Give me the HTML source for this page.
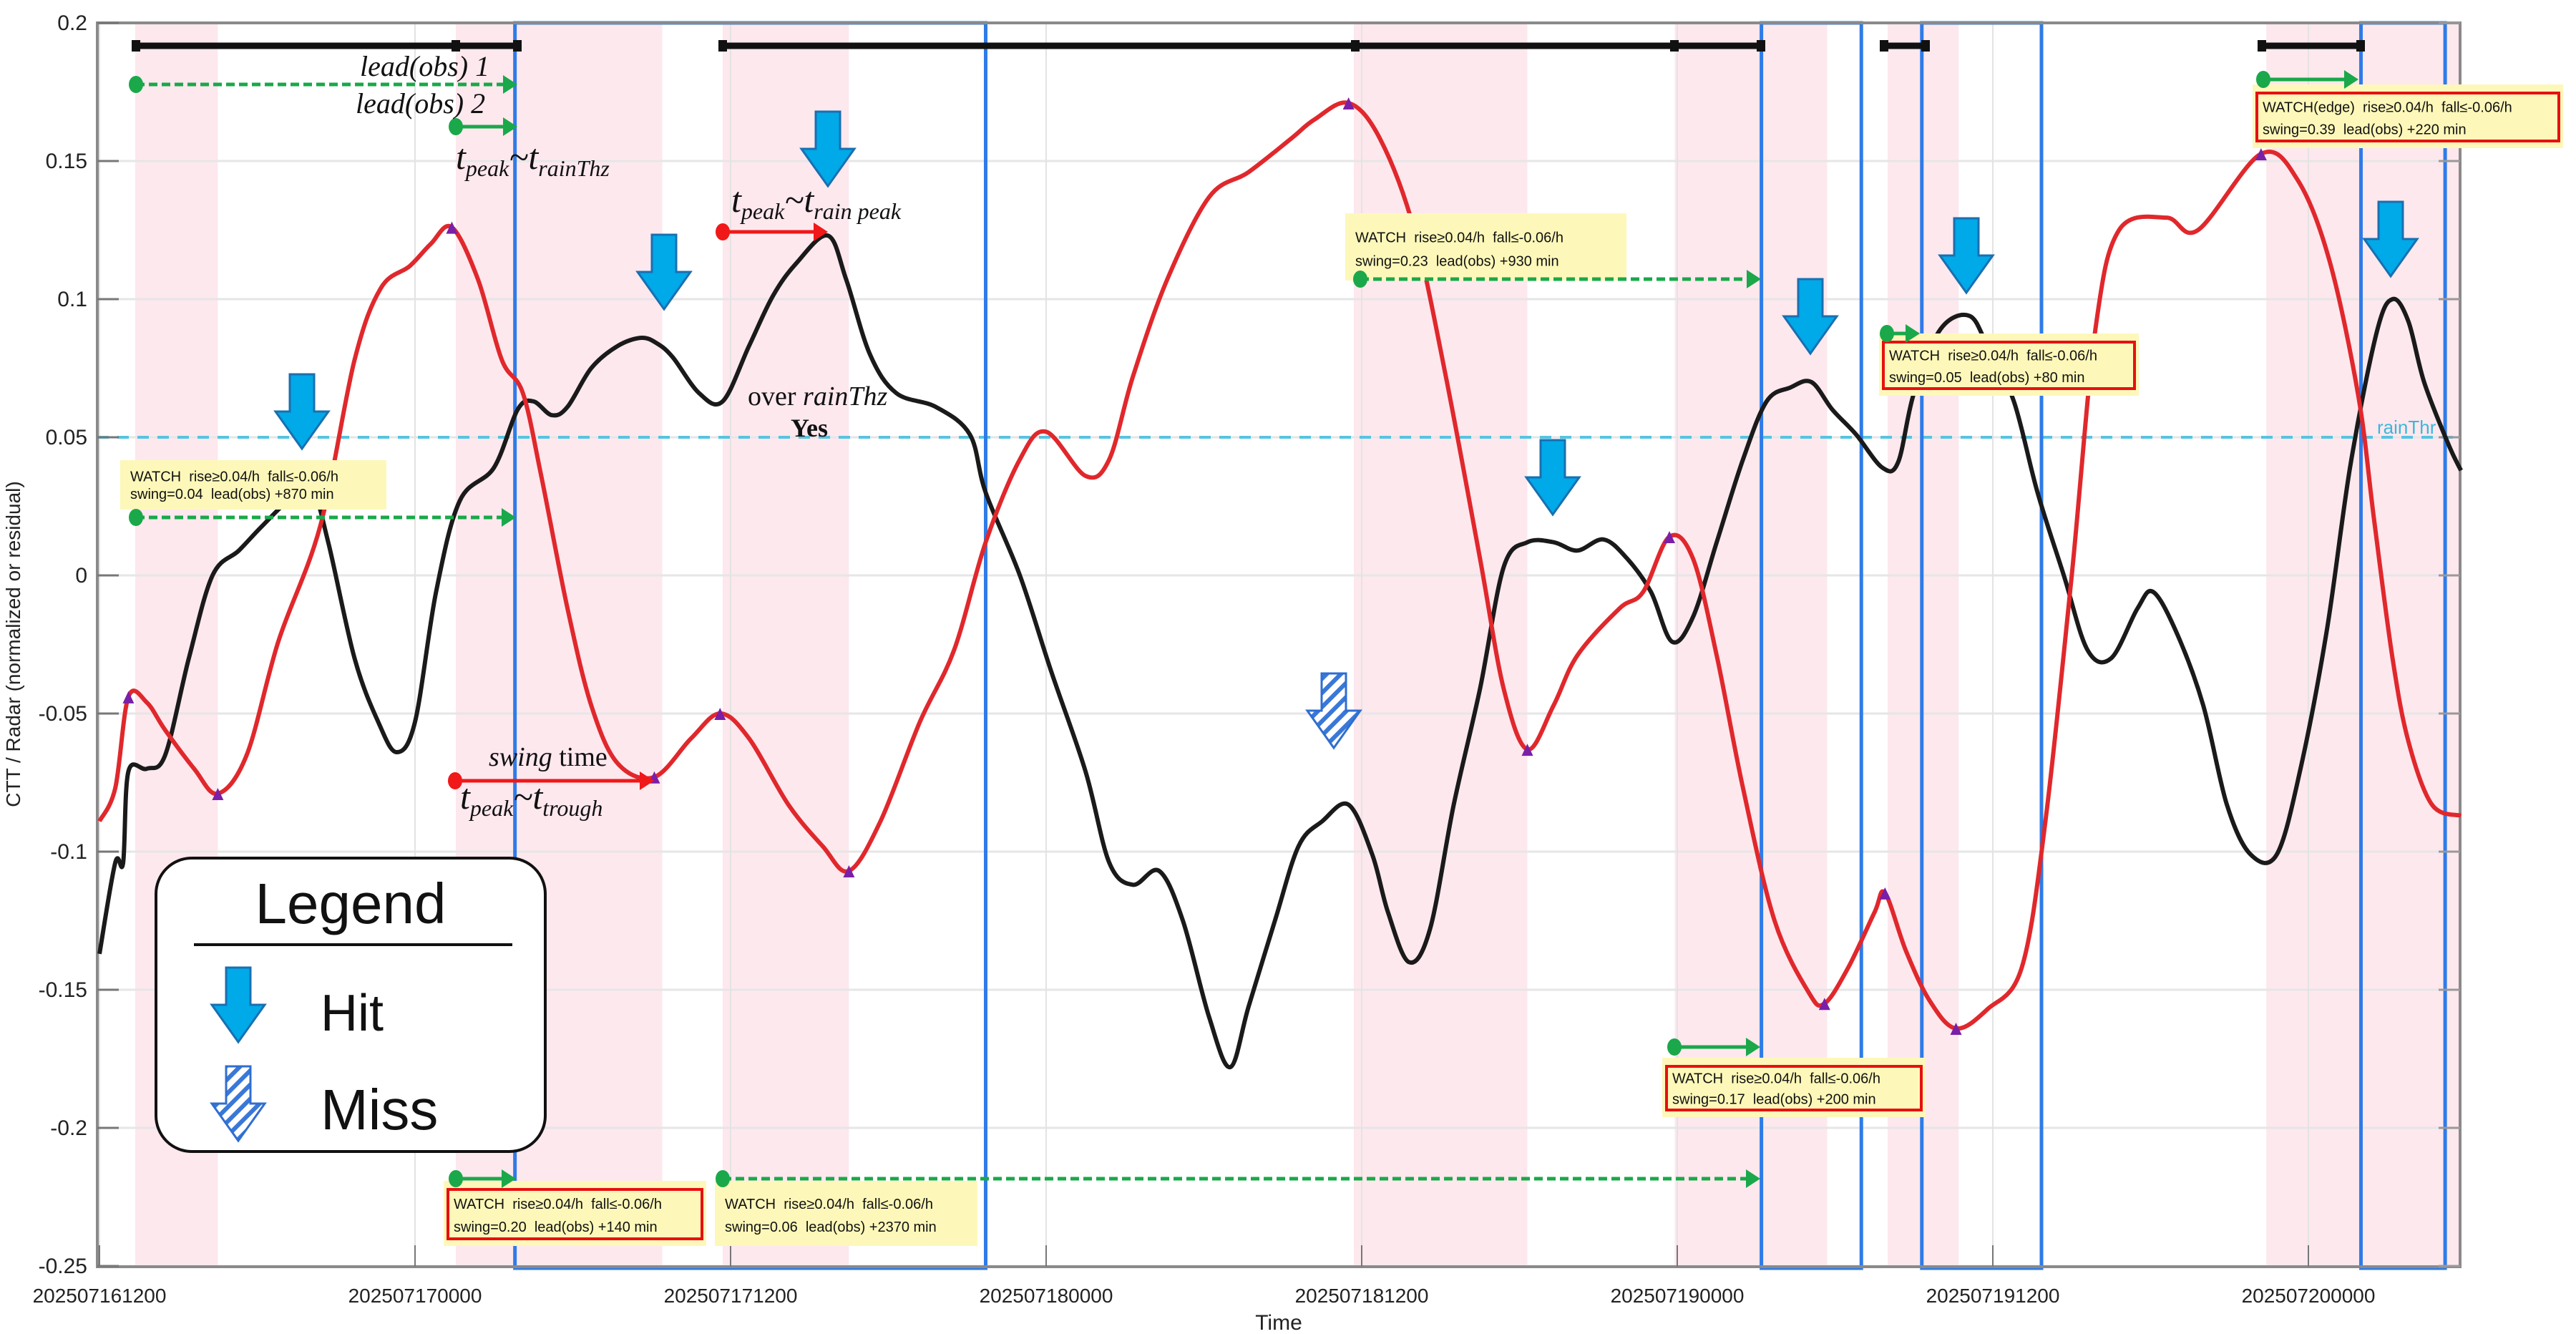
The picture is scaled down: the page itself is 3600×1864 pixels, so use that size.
<!DOCTYPE html>
<html><head><meta charset="utf-8"><style>
html,body{margin:0;padding:0;background:#fff;}
svg{display:block;}
text{font-family:"Liberation Sans",sans-serif;}
.ser{font-family:"Liberation Serif",serif;}
</style></head><body>
<svg id="chart" width="3600" height="1864" viewBox="0 0 3600 1864" xmlns="http://www.w3.org/2000/svg">
<defs>
<pattern id="hatch" patternUnits="userSpaceOnUse" width="14" height="14" patternTransform="rotate(45)">
<rect width="14" height="14" fill="#fff"/><rect width="6" height="14" fill="#3a78d8"/>
</pattern>
</defs>
<g id="bands"></g>
<g id="grid"></g>
<g id="boxes"></g>
<g id="axes"></g>
<g id="series"></g>
<g id="annot"></g>
</svg>
<script>
const xTickHours=[0,12,24,36,48,60,72,84];
const xTickLabels=["202507161200","202507170000","202507171200","202507180000","202507181200","202507190000","202507191200","202507200000"];
const yTicks=[0.2,0.15,0.1,0.05,0,-0.05,-0.1,-0.15,-0.2,-0.25];
const yTickLabels=["0.2","0.15","0.1","0.05","0","-0.05","-0.1","-0.15","-0.2","-0.25"];
const rainThr=0.05;
const bandStart=[1.36,13.55,23.7,47.7,59.9,68.0,82.4];
const bandEnd=[4.5,21.4,28.5,54.3,65.7,70.7,89.8];
const boxStart=[15.8,63.2,69.3,86.0];
const boxEnd=[33.7,67.0,73.85,89.2];
const redT=[0,0.6,1.1,1.8,2.5,3.6,4.5,5.6,6.8,8.4,9.7,10.7,11.8,12.6,13.4,14.4,15.3,16.1,16.8,17.8,18.7,19.7,21.1,22.5,23.6,24.7,26.2,27.5,28.5,29.7,31.2,32.5,33.7,35.0,36.0,37.5,38.4,39.3,40.6,42.2,43.7,45.3,46.2,47.5,48.7,50.0,51.2,52.5,53.4,54.3,55.3,56.2,57.8,58.7,59.7,60.6,61.5,62.5,63.7,65.0,65.6,66.5,67.5,67.9,68.7,69.6,70.6,71.8,73.1,74.0,75.0,75.9,76.8,78.6,79.8,82.2,83.6,84.8,85.9,86.5,87.2,87.8,88.7,89.8];
const redV=[-0.089,-0.077,-0.044,-0.046,-0.056,-0.070,-0.079,-0.065,-0.024,0.018,0.078,0.104,0.112,0.120,0.126,0.107,0.078,0.066,0.036,-0.012,-0.047,-0.068,-0.073,-0.059,-0.050,-0.059,-0.083,-0.098,-0.107,-0.089,-0.053,-0.027,0.012,0.042,0.052,0.036,0.042,0.072,0.107,0.137,0.146,0.158,0.165,0.171,0.158,0.125,0.072,0.006,-0.041,-0.063,-0.047,-0.029,-0.012,-0.006,0.014,0.006,-0.029,-0.077,-0.125,-0.151,-0.155,-0.142,-0.122,-0.115,-0.136,-0.154,-0.164,-0.157,-0.142,-0.089,0.0,0.089,0.125,0.1295,0.125,0.1526,0.143,0.114,0.065,0.02,-0.03,-0.06,-0.083,-0.087];
const blackT=[0,0.6,0.9,1.1,1.8,2.5,3.4,4.3,5.3,6.2,7.2,8.1,8.7,9.7,10.6,11.3,12.0,12.8,13.7,15.0,15.9,16.5,17.2,17.8,18.7,19.7,20.6,21.2,21.8,22.8,23.7,24.7,25.6,26.5,27.7,28.4,29.3,30.3,31.8,33.1,33.7,35.0,36.2,37.5,38.4,39.3,40.3,41.2,42.2,43.0,43.7,44.7,45.6,46.5,47.5,48.4,49.0,49.8,50.6,51.5,52.5,53.4,54.3,55.3,56.2,57.2,58.1,59.0,59.8,60.6,61.5,62.5,63.4,64.3,65.1,65.9,66.8,67.8,68.4,69.0,70.0,71.1,71.8,72.8,73.7,74.7,75.6,76.5,77.5,78.1,79.0,80.0,80.9,81.8,82.8,83.7,84.7,85.6,86.6,87.2,87.8,88.4,89.3,89.8];
const blackV=[-0.137,-0.104,-0.104,-0.071,-0.070,-0.065,-0.030,0.0,0.009,0.018,0.027,0.030,0.012,-0.030,-0.053,-0.064,-0.053,-0.006,0.027,0.039,0.060,0.063,0.058,0.061,0.075,0.083,0.086,0.084,0.079,0.066,0.063,0.083,0.101,0.113,0.123,0.107,0.080,0.066,0.061,0.051,0.030,0.0,-0.035,-0.071,-0.104,-0.112,-0.107,-0.125,-0.160,-0.178,-0.156,-0.125,-0.098,-0.089,-0.083,-0.101,-0.122,-0.140,-0.128,-0.083,-0.041,0.003,0.012,0.012,0.009,0.013,0.006,-0.006,-0.024,-0.015,0.012,0.042,0.063,0.068,0.070,0.060,0.051,0.039,0.041,0.066,0.089,0.094,0.083,0.063,0.030,0.0,-0.027,-0.030,-0.012,-0.006,-0.021,-0.047,-0.083,-0.101,-0.101,-0.070,-0.020,0.040,0.088,0.100,0.092,0.070,0.048,0.038];
const peakT=[1.1,4.5,13.4,21.1,23.6,28.5,47.5,54.3,59.7,65.6,67.9,70.6,82.2];
const peakV=[-0.044,-0.079,0.126,-0.073,-0.050,-0.107,0.171,-0.063,0.014,-0.155,-0.115,-0.164,0.1526];

const L=136,R=3438,T=32,B=1770;
function X(h){return 139+h*36.75;}
function Y(v){return T+(0.2-v)*3860;}
const NS="http://www.w3.org/2000/svg";
function mk(tag,attrs,parent,txt){const e=document.createElementNS(NS,tag);for(const k in attrs)e.setAttribute(k,attrs[k]);if(txt!==undefined)e.textContent=txt;document.getElementById(parent).appendChild(e);return e;}

for(let i=0;i<bandStart.length;i++){
 const e=mk('rect',{x:X(bandStart[i]),y:T,width:X(bandEnd[i])-X(bandStart[i]),height:B-T,fill:'#fde8ee'},'bands');
 
 
}
for(const v of yTicks){const e=mk('line',{x1:L,x2:R,y1:Y(v),y2:Y(v),stroke:'#e6e6e6','stroke-width':3},'grid');
 
 }
for(const h of xTickHours){const e=mk('line',{x1:X(h),x2:X(h),y1:T,y2:B,stroke:'#e3e3e3','stroke-width':2},'grid');
 
 }
{const e=mk('line',{x1:L,x2:R,y1:Y(rainThr),y2:Y(rainThr),stroke:'#55c4e2','stroke-width':4,'stroke-dasharray':'16 12'},'grid');
 
 }
for(let i=0;i<boxStart.length;i++){
 const e=mk('rect',{x:X(boxStart[i]),y:T,width:X(boxEnd[i])-X(boxStart[i]),height:B-T+2,fill:'none',stroke:'#2f7be8','stroke-width':5},'boxes');
 
 
}
{const e=mk('rect',{x:L,y:T,width:R-L,height:B-T,fill:'none',stroke:'#8a8a8a','stroke-width':4},'axes');
 
 }
yTicks.forEach((v,i)=>{
 mk('line',{x1:L,x2:L+30,y1:Y(v),y2:Y(v),stroke:'#777','stroke-width':3},'axes');
 mk('line',{x1:R-30,x2:R,y1:Y(v),y2:Y(v),stroke:'#999','stroke-width':3},'axes');
 const t=mk('text',{x:L-14,y:Y(v)+10,'text-anchor':'end','font-size':30,fill:'#222'},'axes',yTickLabels[i]);
 
 
});
xTickHours.forEach((h,i)=>{
 mk('line',{x1:X(h),x2:X(h),y1:B-30,y2:B,stroke:'#777','stroke-width':2},'axes');
 const t=mk('text',{x:X(h),y:1820,'text-anchor':'middle','font-size':28,fill:'#222'},'axes',xTickLabels[i]);
 
 
});
{const t=mk('text',{x:1787,y:1858,'text-anchor':'middle','font-size':30,fill:'#222'},'axes','Time');
 
 
 const t2=mk('text',{x:0,y:0,'text-anchor':'middle','font-size':28,fill:'#222',transform:'translate(28,900) rotate(-90)'},'axes','CTT / Radar (normalized or residual)');
 
 }

function smooth(ts,vs){
 const p=ts.map((t,i)=>[X(Math.min(t,89.8)),Y(vs[i])]);
 let d='M'+p[0][0].toFixed(1)+','+p[0][1].toFixed(1);
 for(let i=0;i<p.length-1;i++){
  const p0=p[Math.max(i-1,0)],p1=p[i],p2=p[i+1],p3=p[Math.min(i+2,p.length-1)];
  const c1=[p1[0]+(p2[0]-p0[0])/6,p1[1]+(p2[1]-p0[1])/6];
  const c2=[p2[0]-(p3[0]-p1[0])/6,p2[1]-(p3[1]-p1[1])/6];
  d+=` C${c1[0].toFixed(1)},${c1[1].toFixed(1)} ${c2[0].toFixed(1)},${c2[1].toFixed(1)} ${p2[0].toFixed(1)},${p2[1].toFixed(1)}`;
 }
 return d;
}
{const e=mk('path',{d:smooth(blackT,blackV),fill:'none',stroke:'#1a1a1a','stroke-width':6,'stroke-linejoin':'round'},'series');
 
 
 const r=mk('path',{d:smooth(redT,redV),fill:'none',stroke:'#e0282c','stroke-width':6,'stroke-linejoin':'round'},'series');
 
 }
peakT.forEach((t,i)=>{const x=X(t),y=Y(peakV[i]);
 const e=mk('polygon',{points:`${x-8},${y+9} ${x+8},${y+9} ${x},${y-8}`,fill:'#7a1fa8'},'series');
 
 });

const A='annot';
function seg(x1,x2,y){mk('line',{x1:x1,x2:x2,y1:y,y2:y,stroke:'#111','stroke-width':9},A);}
seg(190,723,64);seg(1010,2461,64);seg(2633,2691,64);seg(3161,3299,64);
[190,637,723,1010,1894,2340,2461,2633,2691,3161,3299].forEach(x=>mk('rect',{x:x-6,y:56,width:12,height:16,fill:'#111'},A));

function txt(x,y,s,size,cls,name,extra){const t=mk('text',Object.assign({x:x,y:y,'font-size':size,fill:'#111'},extra||{}),A);t.innerHTML=s;if(cls)t.setAttribute('class',cls);
 
 return t;}

function note(x1,x2,y1,y2,red,l1,l2,name){
 const g=mk('rect',{x:x1,y:y1,width:x2-x1,height:y2-y1,fill:'#fdf8b9'},A);
 
 
 if(red)mk('rect',{x:x1+6,y:y1+12,width:x2-x1-12,height:y2-y1-22,fill:'none',stroke:'#e81010','stroke-width':4},A);
 const h=y2-y1;
 txt(x1+14,y1+h*0.43,l1,20,null,name+'-line1');
 txt(x1+14,y1+h*0.78,l2,20,null,name+'-line2');}
note(168,540,643,712,false,'WATCH&#160; rise≥0.04/h&#160; fall≤-0.06/h','swing=0.04&#160; lead(obs) +870 min','watch-note-a');
note(1880,2273,298,392,false,'WATCH&#160; rise≥0.04/h&#160; fall≤-0.06/h','swing=0.23&#160; lead(obs) +930 min','watch-note-b');
note(2626,2989,466,553,true,'WATCH&#160; rise≥0.04/h&#160; fall≤-0.06/h','swing=0.05&#160; lead(obs) +80 min','watch-note-c');
note(3148,3582,118,207,true,'WATCH(edge)&#160; rise≥0.04/h&#160; fall≤-0.06/h','swing=0.39&#160; lead(obs) +220 min','watch-note-d');
note(620,987,1650,1741,true,'WATCH&#160; rise≥0.04/h&#160; fall≤-0.06/h','swing=0.20&#160; lead(obs) +140 min','watch-note-e');
note(999,1366,1650,1741,false,'WATCH&#160; rise≥0.04/h&#160; fall≤-0.06/h','swing=0.06&#160; lead(obs) +2370 min','watch-note-f');
note(2323,2691,1478,1561,true,'WATCH&#160; rise≥0.04/h&#160; fall≤-0.06/h','swing=0.17&#160; lead(obs) +200 min','watch-note-g');

function garrow(x1,x2,y,dashed,color){color=color||'#1aa84a';
 mk('line',{x1:x1,x2:x2-16,y1:y,y2:y,stroke:color,'stroke-width':5,'stroke-dasharray':dashed?'12 6':'none'},A);
 mk('polygon',{points:`${x2-20},${y-13} ${x2},${y} ${x2-20},${y+13}`,fill:color},A);
 mk('ellipse',{cx:x1,cy:y,rx:10,ry:12,fill:color},A);}
garrow(190,723,118,true);garrow(637,723,177,false);garrow(190,721,723,true);garrow(1901,2461,390,true);
garrow(2637,2683,466,false);garrow(3163,3296,111,false);garrow(637,721,1647,false);garrow(1010,2460,1647,true);garrow(2340,2460,1463,false);
garrow(1010,1157,324,false,'#f01818');garrow(636,914,1091,false,'#f01818');

txt(503,106,'<tspan font-style="italic">lead(obs) 1</tspan>',40,'ser','lead-obs-1-label');
txt(497,158,'<tspan font-style="italic">lead(obs) 2</tspan>',40,'ser','lead-obs-2-label');
txt(637,236,'<tspan font-style="italic">t<tspan font-size="32" dy="10">peak</tspan><tspan dy="-10">~t</tspan><tspan font-size="32" dy="10">rainThz</tspan></tspan>',50,'ser','tpeak-trainthz-label');
txt(1022,296,'<tspan font-style="italic">t<tspan font-size="32" dy="10">peak</tspan><tspan dy="-10">~t</tspan><tspan font-size="32" dy="10">rain peak</tspan></tspan>',50,'ser','tpeak-trainpeak-label');
txt(1045,566,'over <tspan font-style="italic">rainThz</tspan>',38,'ser','over-rainthz-label');
txt(1105,610,'Yes',36,'ser','yes-label',{'font-weight':'bold'});
txt(683,1070,'<tspan font-style="italic">swing</tspan> time',38,'ser','swing-time-label');
txt(643,1130,'<tspan font-style="italic">t<tspan font-size="32" dy="10">peak</tspan><tspan dy="-10">~t</tspan><tspan font-size="32" dy="10">trough</tspan></tspan>',50,'ser','tpeak-ttrough-label');
txt(3322,606,'rainThr',26,null,'rain-threshold-label',{fill:'#3bb7dc'});

function downArrow(cx,top,name,fill,stroke){
 const h=104,sw=17,hw=37,sh=52;
 const p=`${cx-sw},${top} ${cx+sw},${top} ${cx+sw},${top+sh} ${cx+hw},${top+sh} ${cx},${top+h} ${cx-hw},${top+sh} ${cx-sw},${top+sh}`;
 const e=mk('polygon',{points:p,fill:fill,stroke:stroke,'stroke-width':3},A);
 
 }
[[422,523],[928,328],[1157,156],[2530,390],[2170,615],[2748,305],[3341,282]].forEach(a=>downArrow(a[0],a[1],'hit-arrow','#00a9e8','#1a6fb0'));
downArrow(1864,941,'miss-arrow','url(#hatch)','#2f6ed0');

{const g=mk('rect',{x:218,y:1199,width:544,height:410,rx:50,ry:50,fill:'#fff',stroke:'#111','stroke-width':4},A);
 
 
 txt(490,1290,'Legend',80,null,'legend-title',{'text-anchor':'middle'});
 mk('line',{x1:271,x2:716,y1:1320,y2:1320,stroke:'#111','stroke-width':4},A);
 downArrow(333,1352,'legend-hit-icon','#00a9e8','#1a6fb0');
 txt(448,1440,'Hit',72,null,'legend-hit-label');
 downArrow(333,1490,'legend-miss-icon','url(#hatch)','#2f6ed0');
 txt(448,1578,'Miss',80,null,'legend-miss-label');}
</script>
</body></html>
